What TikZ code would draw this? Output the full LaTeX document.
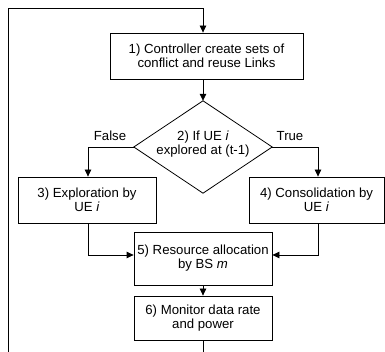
\documentclass[tikz,border=0pt]{standalone}
\usepackage{fontspec}
\setmainfont{Liberation Sans}
\usetikzlibrary{arrows.meta,calc}
\begin{document}
\begin{tikzpicture}[x=1pt,y=1pt,
  every node/.style={font=\fontsize{13.2}{14}\selectfont},
  box/.style={draw, line width=0.8pt, align=center, inner sep=0pt},
  arr/.style={line width=0.8pt, -{Triangle[length=7pt,width=6.5pt]}},
  ln/.style={line width=0.8pt}]
\useasboundingbox (0,0) rectangle (385,352);
\node[box, minimum width=193pt, minimum height=46pt] (b1) at (206.5,296) {1) Controller create sets of\\conflict and reuse Links};
\node[inner sep=0pt, minimum width=138pt, minimum height=92pt] (d) at (203,205) {};
\draw[ln] (d.north) -- (d.east) -- (d.south) -- (d.west) -- cycle;
\node[align=center, inner sep=0pt] (dt) at (203,207.5) {2) If UE \textit{i}\\explored at (t-1)};
\node[box, minimum width=138pt, minimum height=46pt] (b3) at (87,152) {3) Exploration by\\UE \textit{i}};
\node[box, minimum width=135pt, minimum height=46pt] (b4) at (316.5,152) {4) Consolidation by\\UE \textit{i}};
\node[box, minimum width=138pt, minimum height=53pt] (b5) at (203,93.5) {5) Resource allocation\\by BS \textit{m}};
\node[box, minimum width=138pt, minimum height=44pt] (b6) at (203,34) {6) Monitor data rate\\and power};
\node (f) at (110,216) {False};
\node (t) at (290,216) {True};
\coordinate (bot) at (203,0);
\coordinate (bl) at (8,0);
\coordinate (tl) at (8,344);
\coordinate (in3) at (88,175);
\coordinate (in4) at (318,175);
\draw[ln] (b6.south) -- (bot);
\draw[arr] (bl) -- (tl) -| (b1.north -| d.north);
\draw[arr] (b1.south -| d.north) -- (d.north);
\draw[arr] (d.west) -| (b3.north -| in3);
\draw[arr] (d.east) -| (b4.north -| in4);
\draw[arr] (b3.south -| in3) |- ([yshift=3.5pt]b5.west);
\draw[arr] (b4.south -| in4) |- ([yshift=3.5pt]b5.east);
\draw[arr] (b5.south) -- (b6.north);
\end{tikzpicture}
\end{document}
